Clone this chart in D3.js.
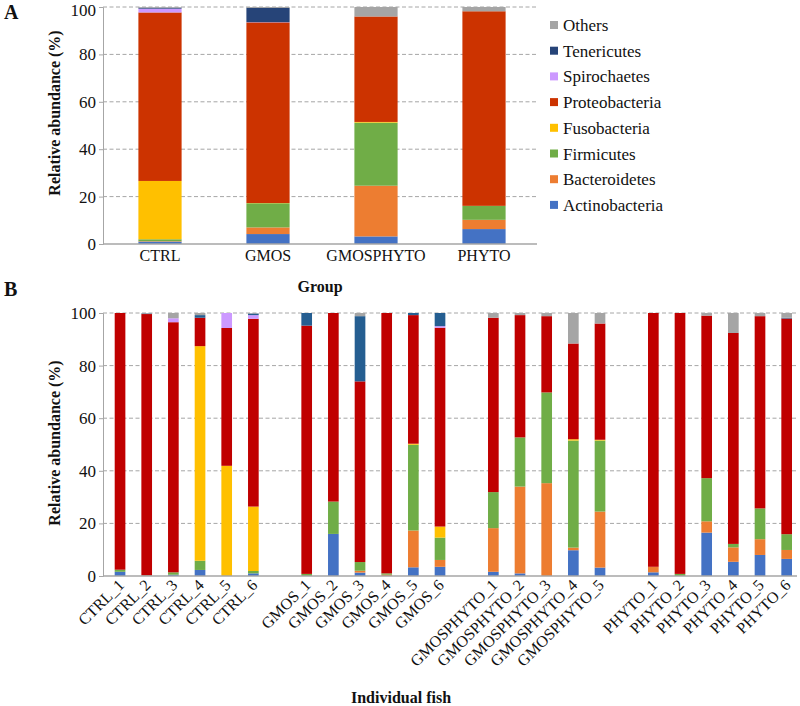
<!DOCTYPE html>
<html><head><meta charset="utf-8">
<script src="https://cdn.jsdelivr.net/npm/d3@7"></script>
<style>body{margin:0;background:#fff}svg{display:block}svg text{font-family:"Liberation Serif","Times New Roman",serif !important;fill:#111}</style>
</head><body>
<svg id="c" width="800" height="706"></svg>
<script>
// ---------- DATA ----------
const seriesNames = ["Actinobacteria","Bacteroidetes","Firmicutes","Fusobacteria","Proteobacteria","Spirochaetes","Tenericutes","Others"];
const legendOrder = ["Others","Tenericutes","Spirochaetes","Proteobacteria","Fusobacteria","Firmicutes","Bacteroidetes","Actinobacteria"];
const colorsA = ["#4472C4","#ED7D31","#70AD47","#FFC000","#CC3300","#CC99FF","#264478","#A5A5A5"];
const colorsB = ["#4472C4","#ED7D31","#70AD47","#FFC000","#C00000","#CC99FF","#255E91","#A5A5A5"];
const yTicks = [0,20,40,60,80,100];

// Panel A (group means)
const groupsA = ["CTRL","GMOS","GMOSPHYTO","PHYTO"];
const actinoA  = [1.0, 4.2, 3.2, 6.3];
const bacterA  = [0.2, 2.8, 21.4, 3.9];
const firmA    = [0.8, 10.2, 26.6, 5.9];
const fusoA    = [24.6, 0.1, 0.3, 0];
const proteoA  = [71.1, 76.2, 44.5, 82.1];
const spiroA   = [1.6, 0.1, 0, 0];
const teneriA  = [0.4, 6.0, 0, 0];
const othersA  = [0.3, 0.4, 4.0, 1.8];

// Panel B (individual fish)
const fishB = ["CTRL_1","CTRL_2","CTRL_3","CTRL_4","CTRL_5","CTRL_6",
  "GMOS_1","GMOS_2","GMOS_3","GMOS_4","GMOS_5","GMOS_6",
  "GMOSPHYTO_1","GMOSPHYTO_2","GMOSPHYTO_3","GMOSPHYTO_4","GMOSPHYTO_5",
  "PHYTO_1","PHYTO_2","PHYTO_3","PHYTO_4","PHYTO_5","PHYTO_6"];
const actinoB = [1.6,0,0.5,2.3,0,1.0, 0,16.0,1.3,0,3.3,3.5, 1.6,1.0,0,9.8,3.2, 1.4,0,16.5,5.4,8.0,6.5];
const bacterB = [0,0,0,0,0,0, 0,0,0.7,0.5,14.0,2.6, 16.6,33.0,35.3,1.0,21.3, 2.1,0,4.3,5.5,6.0,3.4];
const firmB   = [0.8,0.2,0.9,3.5,0,0.9, 0.8,12.3,3.3,0.5,32.6,8.5, 13.7,18.7,34.5,40.7,27.0, 0,0.8,16.4,1.3,11.7,6.0];
const fusoB   = [0,0,0,81.6,41.9,24.5, 0,0,0,0,0.4,4.2, 0,0,0,0.5,0.3, 0,0,0,0,0,0];
const proteoB = [97.6,99.4,95.1,10.8,52.4,71.4, 94.4,71.7,68.7,99.0,48.9,75.6, 66.3,46.5,29.0,36.4,44.2, 96.5,99.2,61.8,80.2,73.1,82.0];
const spiroB  = [0,0,1.5,0,5.7,1.4, 0,0,0,0,0,0.6, 0,0,0,0,0, 0,0,0,0,0,0];
const teneriB = [0,0.2,0,1.0,0,0.6, 4.8,0,24.8,0,0.8,5.0, 0,0,0,0,0, 0,0,0,0,0,0.3];
const othersB = [0,0.2,2.0,0.8,0,0.2, 0,0,1.2,0,0,0, 1.8,0.8,1.2,11.6,4.0, 0,0,1.0,7.6,1.2,1.8];

// ---------- BUILD ----------
function table(cats, arrs){
  return cats.map((c,i)=>{const o={cat:c}; seriesNames.forEach((s,j)=>o[s]=arrs[j][i]); return o;});
}
const dataA = table(groupsA,[actinoA,bacterA,firmA,fusoA,proteoA,spiroA,teneriA,othersA]);
const dataB = table(fishB,[actinoB,bacterB,firmB,fusoB,proteoB,spiroB,teneriB,othersB]);
const stack = d3.stack().keys(seriesNames);

const svg = d3.select("#c");

function panel(opt){
  const g = svg.append("g");
  const y = d3.scaleLinear().domain([0,100]).range([opt.y0,opt.y1]);
  g.selectAll(".grid").data(yTicks.filter(t=>t>0)).join("line")
    .attr("x1",opt.gx0).attr("x2",opt.gx1).attr("y1",d=>y(d)).attr("y2",d=>y(d))
    .attr("stroke","#A6A6A6").attr("stroke-width",1).attr("stroke-dasharray","4,2.5");
  const ya = d3.axisLeft(y).tickValues(yTicks).tickSize(4).tickPadding(3);
  const ag = g.append("g").attr("transform",`translate(${opt.gx0},0)`).call(ya);
  ag.select(".domain").attr("stroke","#A6A6A6");
  ag.selectAll(".tick line").attr("stroke","#A6A6A6");
  ag.selectAll(".tick text").attr("font-size",opt.tickSize).attr("fill","#111")
    .attr("dy",d=>(opt.topNudge && d===100) ? "0.5em" : "0.32em");
  const x = opt.x;
  const st = stack(opt.data);
  g.selectAll(".s").data(st).join("g").attr("fill",(d,i)=>opt.colors[i])
    .selectAll("rect").data(d=>d).join("rect")
    .attr("x",d=>x(d.data.cat)).attr("width",x.bandwidth())
    .attr("y",d=>y(d[1])).attr("height",d=>Math.max(0,y(d[0])-y(d[1])));
  g.append("line").attr("x1",opt.gx0).attr("x2",opt.gx1).attr("y1",y(0)).attr("y2",y(0))
    .attr("stroke","#A6A6A6").attr("stroke-width",1.3);
  g.append("text").attr("transform",`translate(${opt.ylx},${opt.yly}) rotate(-90)`)
    .attr("text-anchor","middle").attr("font-weight","bold").attr("font-size",16)
    .text("Relative abundance (%)");
  return {g,y};
}

// Panel A
const xA = d3.scaleBand().domain(groupsA).range([106,538]).paddingInner(0.6).paddingOuter(0.3);
const pA = panel({data:dataA,x:xA,colors:colorsA,y0:244,y1:7,gx0:103,gx1:537,tickSize:17,ylx:60,yly:113,topNudge:true});
pA.g.selectAll(".catA").data(groupsA).join("text")
  .attr("x",d=>xA(d)+xA.bandwidth()/2).attr("y",261).attr("text-anchor","middle")
  .attr("font-size",16).text(d=>d);
pA.g.append("text").attr("x",320).attr("y",292).attr("text-anchor","middle")
  .attr("font-weight","bold").attr("font-size",16).text("Group");

// legend
const lg = svg.append("g");
legendOrder.forEach((s,i)=>{
  const yy = 25 + i*25.7;
  lg.append("rect").attr("x",550).attr("y",yy-4).attr("width",8).attr("height",8)
    .attr("fill",colorsA[seriesNames.indexOf(s)]);
  lg.append("text").attr("x",563).attr("y",yy+6).attr("font-size",17).text(s);
});

// Panel B
const slotsB = [];
fishB.forEach((f,i)=>{
  if(i>0 && f.split("_")[0]!==fishB[i-1].split("_")[0]) slotsB.push("gap"+i);
  slotsB.push(f);
});
const xB = d3.scaleBand().domain(slotsB).range([106.7,800]).paddingInner(0.6).paddingOuter(0.3);
const pB = panel({data:dataB,x:xB,colors:colorsB,y0:576,y1:313,gx0:103,gx1:797,tickSize:17,ylx:60,yly:443});
pB.g.selectAll(".catB").data(fishB).join("text")
  .attr("transform",d=>`translate(${xB(d)+xB.bandwidth()/2+5},${586}) rotate(-45)`)
  .attr("text-anchor","end").attr("font-size",16).text(d=>d);
pB.g.append("text").attr("x",401).attr("y",703).attr("text-anchor","middle")
  .attr("font-weight","bold").attr("font-size",16).text("Individual fish");

svg.append("text").attr("x",4).attr("y",19).attr("font-weight","bold").attr("font-size",20).text("A");
svg.append("text").attr("x",4).attr("y",296).attr("font-weight","bold").attr("font-size",20).text("B");
</script>
</body></html>
